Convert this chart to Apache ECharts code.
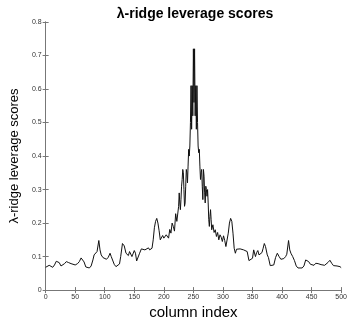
<!DOCTYPE html>
<html>
<head>
<meta charset="utf-8">
<script src="https://cdn.jsdelivr.net/npm/echarts@6/dist/echarts.min.js"></script>
<style>
  html, body { margin: 0; padding: 0; background: #fff; }
  #main { width: 350px; height: 325px; }
</style>
</head>
<body>
<div id="main"></div>
<script>
// column index (x) and λ-ridge leverage score (y)
const columnIndex = [
  0, 3, 6, 9, 12, 15, 18, 20, 23, 26, 29, 32, 35, 37, 39, 41, 43, 46, 50, 54,
  57, 60, 62, 65, 68, 71, 74, 77, 80, 82, 85, 87, 90, 92, 94, 97, 100, 103, 106, 109,
  111, 113, 116, 119, 122, 125, 127, 130, 133, 136, 138, 140, 142, 144, 146, 148, 150, 152, 154, 157,
  159, 162, 165, 168, 171, 174, 176, 178, 180, 182, 184, 186, 188, 190, 192, 194, 196, 198, 200, 202,
  204, 206, 208, 210, 212, 214, 216, 218, 220, 222, 224, 225, 226, 227, 228, 229, 230, 231, 232, 233,
  234, 235, 236, 237, 238, 239, 240, 241, 242, 243, 244, 245, 246, 247, 248, 249, 250, 251, 252, 253,
  254, 255, 256, 257, 258, 259, 260, 261, 262, 263, 264, 265, 266, 267, 268, 269, 270, 271, 272, 273,
  274, 275, 276, 277, 278, 279, 280, 281, 283, 285, 287, 289, 291, 293, 295, 297, 299, 301, 303, 305,
  307, 309, 311, 313, 315, 317, 319, 321, 323, 326, 329, 332, 335, 338, 341, 344, 347, 350, 352, 355,
  357, 359, 361, 363, 366, 368, 370, 372, 375, 377, 380, 383, 386, 389, 392, 395, 398, 400, 403, 406,
  408, 411, 413, 415, 418, 421, 424, 427, 430, 434, 437, 440, 442, 445, 448, 451, 454, 457, 459, 461,
  463, 466, 469, 472, 475, 478, 481, 484, 487, 490, 493, 496, 498, 500
]
const scores = [
  0.068, 0.071, 0.074, 0.072, 0.068, 0.075, 0.086, 0.089, 0.082, 0.072, 0.074, 0.079, 0.085, 0.080, 0.082, 0.085, 0.079, 0.074, 0.075, 0.079,
  0.085, 0.096, 0.093, 0.084, 0.069, 0.065, 0.066, 0.072, 0.090, 0.105, 0.110, 0.115, 0.148, 0.120, 0.105, 0.097, 0.093, 0.092, 0.098, 0.110,
  0.100, 0.095, 0.077, 0.070, 0.069, 0.078, 0.100, 0.139, 0.132, 0.110, 0.105, 0.103, 0.115, 0.118, 0.100, 0.105, 0.118, 0.110, 0.087, 0.092,
  0.110, 0.123, 0.122, 0.120, 0.121, 0.126, 0.120, 0.115, 0.125, 0.150, 0.186, 0.205, 0.214, 0.200, 0.177, 0.150, 0.150, 0.163, 0.155, 0.151,
  0.165, 0.160, 0.155, 0.181, 0.170, 0.200, 0.190, 0.176, 0.228, 0.205, 0.210, 0.250, 0.290, 0.260, 0.240, 0.270, 0.310, 0.330, 0.360, 0.350,
  0.300, 0.250, 0.260, 0.310, 0.360, 0.350, 0.320, 0.370, 0.420, 0.400, 0.430, 0.500, 0.610, 0.480, 0.610, 0.520, 0.720, 0.560, 0.720, 0.520,
  0.610, 0.480, 0.610, 0.500, 0.430, 0.410, 0.420, 0.370, 0.330, 0.350, 0.360, 0.310, 0.270, 0.360, 0.340, 0.290, 0.260, 0.310, 0.300, 0.280,
  0.300, 0.260, 0.210, 0.190, 0.220, 0.240, 0.210, 0.180, 0.195, 0.172, 0.180, 0.160, 0.172, 0.150, 0.165, 0.158, 0.145, 0.162, 0.148, 0.130,
  0.135, 0.170, 0.200, 0.214, 0.205, 0.170, 0.125, 0.110, 0.122, 0.120, 0.123, 0.122, 0.120, 0.124, 0.115, 0.088, 0.085, 0.095, 0.120, 0.100,
  0.112, 0.118, 0.105, 0.100, 0.112, 0.125, 0.139, 0.130, 0.105, 0.097, 0.073, 0.069, 0.075, 0.097, 0.110, 0.100, 0.092, 0.089, 0.094, 0.100,
  0.107, 0.148, 0.120, 0.110, 0.100, 0.088, 0.072, 0.066, 0.065, 0.066, 0.072, 0.090, 0.095, 0.085, 0.077, 0.073, 0.074, 0.080, 0.083, 0.079,
  0.084, 0.076, 0.078, 0.074, 0.076, 0.083, 0.089, 0.080, 0.073, 0.071, 0.072, 0.069, 0.070, 0.067
]
const xTicks = [0, 50, 100, 150, 200, 250, 300, 350, 400, 450, 500]
const yTicks = ['0', '0.1', '0.2', '0.3', '0.4', '0.5', '0.6', '0.7', '0.8']

const myChart = echarts.init(document.getElementById('main'))

const frameColor = '#777'
const tickLabel = { fontSize: 7, color: '#333', fontFamily: 'Liberation Sans, Arial, sans-serif' }

const option = {
  animation: false,
  backgroundColor: '#fff',
  title: {
    text: 'λ-ridge leverage scores',
    left: 190,
    textAlign: 'center',
    top: 2,
    textStyle: { fontSize: 14, fontWeight: 'bold', color: '#000', fontFamily: 'Liberation Sans, Arial, sans-serif' }
  },
  grid: { left: 37, right: 6, top: 22, bottom: 19 },
  xAxis: [
    {
      type: 'value',
      min: 0,
      max: 500,
      interval: 50,
      position: 'bottom',
      name: 'column index',
      nameLocation: 'middle',
      nameGap: 12,
      nameTextStyle: { fontSize: 15, color: '#000', fontFamily: 'Liberation Sans, Arial, sans-serif' },
      axisLine: { show: true, lineStyle: { color: frameColor, width: 1 } },
      axisTick: { show: true, inside: true, length: 3, lineStyle: { color: frameColor } },
      axisLabel: { ...tickLabel, margin: 3, formatter: v => xTicks.includes(v) ? String(v) : '' },
      splitLine: { show: false }
    },
    {
      type: 'value',
      min: 0,
      max: 500,
      interval: 50,
      position: 'top',
      axisLine: { show: true, lineStyle: { color: frameColor, width: 1 } },
      axisTick: { show: true, inside: true, length: 3, lineStyle: { color: frameColor } },
      axisLabel: { show: false },
      splitLine: { show: false }
    }
  ],
  yAxis: [
    {
      type: 'value',
      min: 0,
      max: 0.8,
      interval: 0.1,
      position: 'left',
      name: 'λ-ridge leverage scores',
      nameLocation: 'middle',
      nameGap: 19,
      nameTextStyle: { fontSize: 13, color: '#000', fontFamily: 'Liberation Sans, Arial, sans-serif' },
      axisLine: { show: true, lineStyle: { color: frameColor, width: 1 } },
      axisTick: { show: true, inside: true, length: 3, lineStyle: { color: frameColor } },
      axisLabel: { ...tickLabel, margin: 4, formatter: v => yTicks[Math.round(v * 10)] },
      splitLine: { show: false }
    },
    {
      type: 'value',
      min: 0,
      max: 0.8,
      interval: 0.1,
      position: 'right',
      axisLine: { show: true, lineStyle: { color: frameColor, width: 1 } },
      axisTick: { show: true, inside: true, length: 3, lineStyle: { color: frameColor } },
      axisLabel: { show: false },
      splitLine: { show: false }
    }
  ],
  series: [
    {
      type: 'line',
      xAxisIndex: 0,
      yAxisIndex: 0,
      showSymbol: false,
      smooth: false,
      lineStyle: { color: '#111', width: 1 },
      data: columnIndex.map((x, i) => [x, scores[i]])
    }
  ]
}
myChart.setOption(option)
</script>
</body>
</html>
